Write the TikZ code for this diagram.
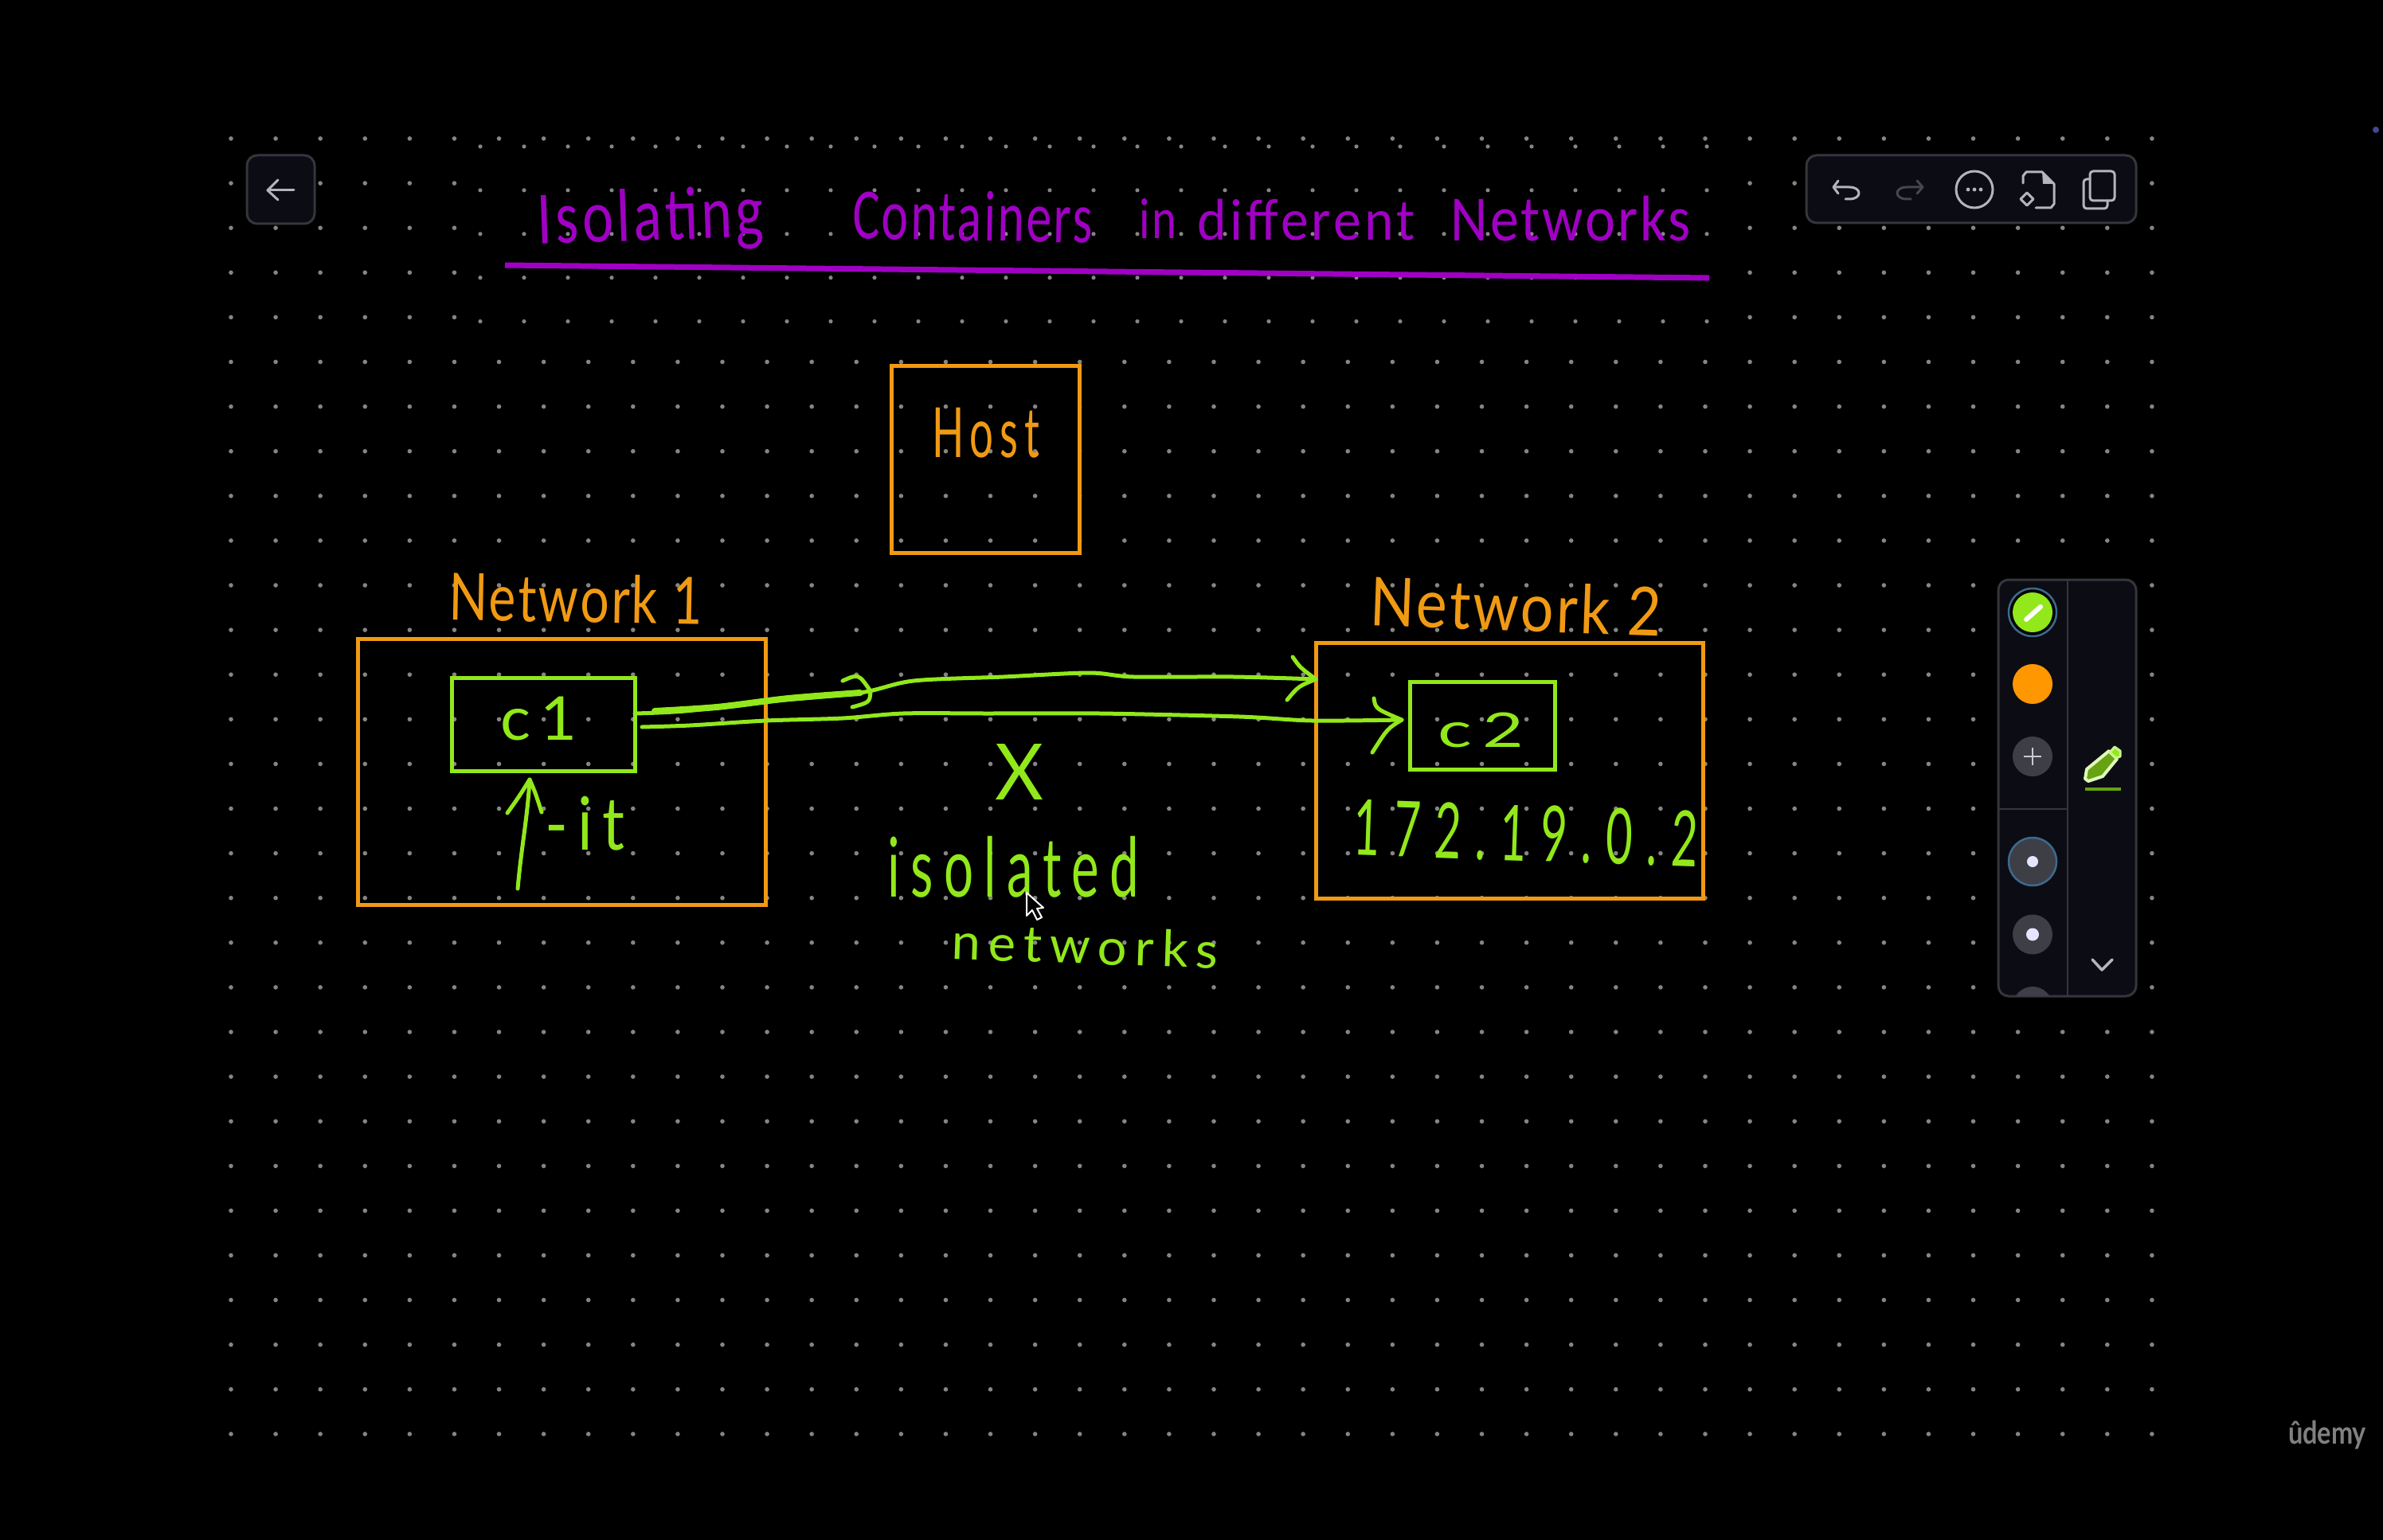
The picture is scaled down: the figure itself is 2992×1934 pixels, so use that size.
\documentclass[tikz,border=0pt]{standalone}
\usepackage{fontspec}
\usepackage{graphicx}
\setmainfont{Carlito}
\newfontfamily\uifont{Lato}
\newcommand{\hwlight}[2]{{\uifont\addfontfeature{LetterSpace=#1}#2}}
\newcommand{\hwreg}[2]{{\addfontfeature{LetterSpace=#1}#2}}
\definecolor{hworange}{HTML}{F09A14}
\definecolor{hwgreen}{HTML}{92E81A}
\definecolor{hwpurple}{HTML}{A000C4}
\definecolor{griddot}{HTML}{858585}
\definecolor{panelfill}{HTML}{0C0C14}
\definecolor{panelline}{HTML}{35353C}
\definecolor{icon}{HTML}{B4B4BA}
\definecolor{icondim}{HTML}{46464C}
\definecolor{swatchgrey}{HTML}{3E3E46}
\definecolor{ringblue}{HTML}{3D6A8C}
\definecolor{swatchorange}{HTML}{FF9800}
\tikzset{
  x=1pt,y=-1pt,
  hw/.style={inner sep=0pt,outer sep=0pt},
  orangebox/.style={draw=hworange,line width=5pt,inner sep=0pt,outer sep=0pt},
  greenbox/.style={draw=hwgreen,line width=5pt,inner sep=0pt,outer sep=0pt},
  hwstroke/.style={draw=hwgreen,line width=5pt,line cap=round,line join=round},
  panelbox/.style={draw=panelline,fill=panelfill,line width=3pt,rounded corners=13pt},
  uiline/.style={draw=icon,line width=3pt,line cap=round,line join=round},
}
% name, colour, x0, y0, x1, y1, rotation, text: text fitted to the given extent
\newcommand{\hwnode}[8]{%
  \pgfmathsetmacro\hwcx{(#3+#5)/2}%
  \pgfmathsetmacro\hwcy{(#4+#6)/2}%
  \pgfmathsetmacro\hww{#5-#3}%
  \pgfmathsetmacro\hwh{#6-#4}%
  \node[hw,text=#2,rotate=#7] (#1) at (\hwcx,\hwcy) {\resizebox*{\hww pt}{\hwh pt}{#8}};}
% name, x0, y0, x1, y1, style
\newcommand{\boxnode}[6]{%
  \pgfmathsetmacro\hwcx{(#2+#4)/2}%
  \pgfmathsetmacro\hwcy{(#3+#5)/2}%
  \pgfmathsetmacro\hww{#4-#2}%
  \pgfmathsetmacro\hwh{#5-#3}%
  \node[#6,minimum width=\hww pt,minimum height=\hwh pt] (#1) at (\hwcx,\hwcy) {};}
\begin{document}
\begin{tikzpicture}
\useasboundingbox (0,0) rectangle (2992,1934);
\fill[black] (0,0) rectangle (2992,1934);

% dot grid
\foreach \r in {0,...,29}{
  \foreach \c in {0,...,43}{
    \pgfmathtruncatemacro\skipdot{(\r>=1 && \r<=4 && \c>=6 && \c<=33) ? 1 : 0}
    \ifnum\skipdot=0
      \fill[griddot] ({290+56.09*\c},{174+56.1*\r}) circle (2.8);
    \fi
  }
}
\foreach \r in {0,...,4}{
  \foreach \c in {0,...,28}{
    \fill[griddot] ({603+55*\c},{184+54.9*\r}) circle (2.6);
  }
}

% title
\hwnode{tA}{hwpurple}{675}{236}{959}{318}{2}{\hwreg{6}{Isolating}}
\hwnode{tB}{hwpurple}{1071}{240}{1372}{303}{-1}{\hwreg{4}{Containers}}
\hwnode{tC}{hwpurple}{1430}{249}{1478}{299}{0}{\hwreg{6}{in}}
\hwnode{tD}{hwpurple}{1504}{250}{1777}{302}{0}{\hwreg{6}{different}}
\hwnode{tE}{hwpurple}{1822}{246}{2122}{303}{0}{\hwreg{4}{Networks}}
\coordinate (ulA) at (634,333);
\coordinate (ulB) at (2146,349);
\draw[hwpurple,line width=7pt] (ulA) -- (ulB);

% boxes
\boxnode{host}{1119}{459}{1355}{694}{orangebox}
\boxnode{netA}{449}{802}{961}{1136}{orangebox}
\boxnode{netB}{1652}{807}{2138}{1128}{orangebox}
\boxnode{cA}{567}{851}{797}{968}{greenbox}
\boxnode{cB}{1770}{856}{1952}{966}{greenbox}

% labels
\hwnode{lHost}{hworange}{1170}{512}{1305}{575}{0}{\hwlight{15}{Host}}
\hwnode{lNetA}{hworange}{564}{721}{882}{782}{-1}{\hwlight{4}{Network 1}}
\hwnode{lNetB}{hworange}{1721}{730}{2086}{793}{-2}{\hwlight{4}{Network 2}}
\hwnode{lcA}{hwgreen}{629}{875}{725}{930}{0}{\hwlight{15}{c1}}
\hwnode{lcB}{hwgreen}{1805}{895}{1913}{939}{0}{\hwlight{15}{c2}}
\hwnode{lit}{hwgreen}{685}{1000}{784}{1068}{0}{\hwlight{15}{-it}}
\hwnode{lX}{hwgreen}{1249}{934}{1310}{1004}{0}{\hwlight{0}{X}}
\hwnode{lIso}{hwgreen}{1115}{1050}{1430}{1127}{0}{\hwlight{20}{isolated}}
\hwnode{lNets}{hwgreen}{1195}{1164}{1530}{1211}{-2}{\hwlight{15}{networks}}
\hwnode{lIp}{hwgreen}{1700}{1011}{2132}{1082}{-2}{\hwlight{30}{172.19.0.2}}

% upper connector: c1 to the edge of Network 2
\coordinate (uS) at (cA.east |- 0,896);
\coordinate (uT) at (netB.west |- 0,853);
\draw[hwstroke] plot[smooth,tension=.5] coordinates {(uS) (860,893) (965,881) (1080,870) (1147,855) (1260,850) (1367,845) (1423,850) (1549,850) (uT)};
\draw[hwstroke,line width=8pt] plot[smooth,tension=.5] coordinates {(822,893) (900,888) (990,877) (1080,870)};
\coordinate (uH1) at (1623,825);
\coordinate (uH2) at (1616,879);
\draw[hwstroke] (uH1) .. controls (1632,838) .. (uT) .. controls (1630,862) .. (uH2);
% small mid-line arrowhead
\coordinate (mH1) at (1058,855);
\coordinate (mH2) at (1093,868);
\coordinate (mH3) at (1070,888);
\draw[hwstroke] (mH1) .. controls (1078,846) .. (mH2) .. controls (1092,882) .. (mH3);

% lower connector: c1 to c2
\coordinate (lS) at (806,913);
\coordinate (lT) at (1760,904);
\draw[hwstroke] plot[smooth,tension=.5] coordinates {(lS) (866,911) (962,905) (1058,902) (1134,896) (1240,896) (1381,896) (1556,900) (1647,905) (lT)};
\coordinate (lH1) at (1725,877);
\coordinate (lH2) at (1723,945);
\draw[hwstroke] (lH1) .. controls (1727,890) .. (lT) .. controls (1742,915) .. (lH2);

% -it arrow
\coordinate (iS) at (650,1116);
\coordinate (iT) at (665,979);
\coordinate (iH1) at (637,1021);
\coordinate (iH2) at (680,1020);
\draw[hwstroke] (iS) .. controls (655,1060) and (662,1030) .. (iT);
\draw[hwstroke] (iH1) .. controls (652,1000) .. (iT) .. controls (672,995) .. (iH2);

% cursor
\draw[white,fill=black,line width=2pt,line join=round]
  (1289,1121) -- (1289,1150) -- (1296,1143) -- (1302,1155) -- (1308,1152) -- (1302,1141) -- (1310,1140) -- cycle;

% back button
\node[panelbox,minimum width=85pt,minimum height=86pt,inner sep=0pt] (back) at (352.5,238) {};
\draw[uiline] (369,239) -- (336,239);
\draw[uiline] (349,226) -- (336,239) -- (349,251);

% top toolbar
\node[panelbox,minimum width=414pt,minimum height=85pt,inner sep=0pt] (bar) at (2475,237.5) {};
\draw[uiline] (2308,227) -- (2302,235) -- (2308,243);
\draw[uiline] (2302,235) -- (2322,235) .. controls (2338,235) and (2338,250) .. (2322,250) -- (2317,250);
\draw[uiline,draw=icondim] (2407,227) -- (2414,235) -- (2407,243);
\draw[uiline,draw=icondim] (2414,235) -- (2394,235) .. controls (2378,235) and (2378,250) .. (2394,250) -- (2399,250);
\draw[uiline] (2479,238) circle (23);
\foreach \d in {-8,0,8}{\fill[icon] ({2479+\d},238) circle (2.4);}
\draw[uiline] (2540,230) -- (2540,221) -- (2544,216) -- (2564,216) -- (2579,231) -- (2579,256) -- (2575,261) -- (2556,261);
\fill[icon] (2564,216) -- (2579,231) -- (2565,231) -- cycle;
\draw[uiline] (2545,242) -- (2553,250) -- (2545,258) -- (2537,250) -- cycle;
\draw[uiline,rounded corners=4pt] (2624,215) rectangle (2655,252);
\draw[uiline,rounded corners=4pt] (2624,225) -- (2616,225) -- (2616,262) -- (2646,262) -- (2646,252);

% side palette
\node[panelbox,minimum width=173pt,minimum height=523pt,inner sep=0pt] (side) at (2595.5,989.5) {};
\draw[panelline,line width=2.5pt] (2596,728) -- (2596,1251);
\draw[panelline,line width=2.5pt] (2509,1016) -- (2596,1016);
\draw[ringblue,line width=2.5pt,fill=black] (2552,769) circle (30);
\fill[hwgreen] (2552,769) circle (25);
\draw[white,line width=6pt,line cap=round] (2544,778) -- (2562,762);
\fill[swatchorange] (2552,859) circle (25);
\fill[swatchgrey] (2552,950) circle (25);
\draw[icon!70!white,line width=2.5pt] (2541,950) -- (2563,950) (2552,939) -- (2552,961);
\draw[ringblue,line width=2.5pt,fill=swatchgrey] (2552,1082) circle (30);
\fill[white!90!blue] (2552,1082) circle (7);
\fill[swatchgrey] (2552,1173.5) circle (25);
\fill[white!90!blue] (2552,1173.5) circle (8);
\begin{scope}
  \clip (2510,1200) rectangle (2595,1250);
  \fill[swatchgrey] (2552,1264) circle (25);
\end{scope}
% marker icon
\draw[white!70!hwgreen,line width=4pt,fill=hwgreen!70!black,line join=round]
  (2618,978) -- (2620,966) -- (2648,943) -- (2658,953) -- (2640,975) -- (2622,981) -- cycle;
\draw[white!50!hwgreen,line width=3pt,fill=hwgreen,line join=round]
  (2649,945) -- (2655,938) -- (2662,943) -- (2662,950) -- (2657,952) -- cycle;
\draw[hwgreen!70!black,line width=4pt] (2618,991) -- (2663,991);
\draw[icon,line width=3.5pt,line cap=round,line join=round] (2627,1205) -- (2639,1218) -- (2652,1205);

% watermark and stray dot
\hwnode{wm}{black!50!white}{2873}{1784}{2971}{1820}{0}{\uifont\bfseries ûdemy}
\fill[blue!55!white!60!black] (2983,163) circle (4);
\end{tikzpicture}
\end{document}
